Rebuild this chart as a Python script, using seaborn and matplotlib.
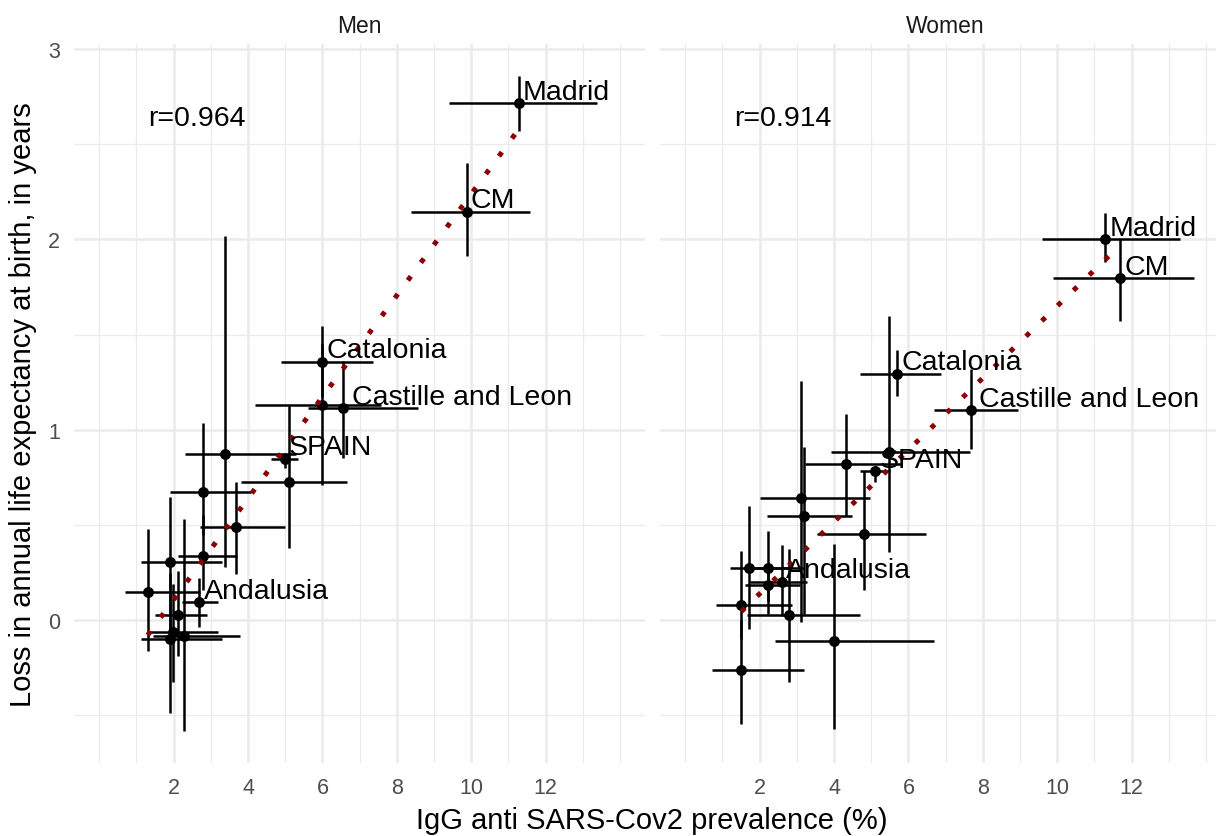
import numpy as np
import pandas as pd
import matplotlib
matplotlib.use("Agg")
import matplotlib.pyplot as plt
import seaborn as sns

# ---------------- data ----------------
men_names = ["Madrid", "CM", "Catalonia", "", "Castille and Leon", "SPAIN", "", "", "",
             "", "", "", "", "Andalusia", "", "", "", ""]
men_x    = [11.27, 9.88, 5.99, 5.99, 6.56, 4.98, 5.10, 3.39, 2.79, 3.68, 2.79, 1.90, 1.30, 2.69, 2.11, 1.99, 1.90, 2.28]
men_xlo  = [9.40, 8.38, 4.89, 4.19, 5.61, 4.62, 3.80, 2.30, 1.91, 2.70, 2.11, 1.11, 0.69, 2.21, 1.50, 1.32, 1.11, 1.45]
men_xhi  = [13.37, 11.58, 7.36, 7.56, 8.57, 5.34, 6.66, 5.30, 4.09, 4.98, 3.69, 3.29, 2.71, 3.20, 2.89, 3.20, 3.29, 3.78]
men_y    = [2.715, 2.146, 1.358, 1.132, 1.114, 0.849, 0.726, 0.875, 0.674, 0.491, 0.337, 0.306, 0.149, 0.096, 0.026, -0.061, -0.100, -0.082]
men_ylo  = [2.571, 1.914, 1.170, 0.710, 0.850, 0.800, 0.381, 0.280, 0.450, 0.240, 0.160, -0.040, -0.160, -0.038, -0.188, -0.327, -0.485, -0.580]
men_yhi  = [2.857, 2.400, 1.547, 1.450, 1.360, 0.880, 1.126, 2.018, 1.035, 0.728, 0.550, 0.648, 0.480, 0.224, 0.259, 0.190, 0.250, 0.530]

women_names = ["Madrid", "CM", "Catalonia", "Castille and Leon", "", "SPAIN", "", "", "",
               "", "", "", "", "Andalusia", "", "", "", ""]
women_x   = [11.29, 11.69, 5.70, 7.68, 5.48, 5.10, 4.31, 3.10, 3.19, 4.80, 1.72, 2.21, 2.21, 2.60, 1.505, 1.505, 2.80, 4.00]
women_xlo = [9.59, 9.88, 4.69, 6.69, 3.91, 4.70, 3.21, 2.00, 2.20, 3.53, 1.21, 1.60, 1.61, 1.75, 0.83, 0.72, 1.66, 2.42]
women_xhi = [13.29, 13.67, 6.87, 8.95, 7.66, 5.50, 5.81, 4.96, 4.47, 6.47, 2.82, 3.20, 3.09, 3.27, 2.87, 3.18, 4.69, 6.69]
women_y   = [2.003, 1.796, 1.295, 1.105, 0.882, 0.782, 0.818, 0.640, 0.546, 0.453, 0.272, 0.272, 0.184, 0.203, 0.079, -0.263, 0.026, -0.109]
women_ylo = [1.880, 1.573, 1.177, 0.900, 0.356, 0.725, 0.549, -0.012, 0.030, 0.158, -0.047, 0.100, 0.032, 0.023, -0.100, -0.547, -0.324, -0.569]
women_yhi = [2.140, 2.000, 1.418, 1.320, 1.598, 0.810, 1.084, 1.254, 0.909, 0.786, 0.600, 0.469, 0.300, 0.394, 0.364, 0.000, 0.373, 0.400]

panels = ["Men", "Women"]
r_labels = ["r=0.964", "r=0.914"]
x_ticks = [2, 4, 6, 8, 10, 12]
y_ticks = [0, 1, 2, 3]
x_label = "IgG anti SARS-Cov2 prevalence (%)"
y_label = "Loss in annual life expectancy at birth, in years"

# ---------------- style ----------------
sns.set_theme(style="white")
plt.rcParams["font.family"] = ["Liberation Sans", "DejaVu Sans"]

W, H = 1216, 837
fig = plt.figure(figsize=(W / 100, H / 100), dpi=100)
fig.patch.set_facecolor("white")

ax_w = 571 / W
ax_h = 719 / H
ax_b = (H - 764) / H
lefts = [74 / W, 660 / W]

frames = [
    pd.DataFrame(dict(name=men_names, x=men_x, xlo=men_xlo, xhi=men_xhi,
                      y=men_y, ylo=men_ylo, yhi=men_yhi)),
    pd.DataFrame(dict(name=women_names, x=women_x, xlo=women_xlo, xhi=women_xhi,
                      y=women_y, ylo=women_ylo, yhi=women_yhi)),
]

label_dx = {"Castille and Leon": 6.0}
grid_col = "#EBEBEB"

for i, (df, title, rlab) in enumerate(zip(frames, panels, r_labels)):
    ax = fig.add_axes([lefts[i], ax_b, ax_w, ax_h])
    ax.set_facecolor("white")
    for s in ax.spines.values():
        s.set_visible(False)
    ax.set_xlim(-0.68, 14.67)
    ax.set_ylim(-0.75, 3.026)
    ax.set_xticks(x_ticks)
    ax.set_xticks([0, 1, 3, 5, 7, 9, 11, 13, 14], minor=True)
    ax.set_yticks(y_ticks)
    ax.set_yticks([-0.5, 0.5, 1.5, 2.5], minor=True)
    ax.grid(which="major", color=grid_col, linewidth=1.8, zorder=0)
    ax.grid(which="minor", color=grid_col, linewidth=0.9, zorder=0)
    ax.set_axisbelow(True)
    ax.tick_params(which="both", length=0, pad=10, labelsize=15.5, labelcolor="#4D4D4D")
    if i == 1:
        ax.tick_params(axis="y", labelleft=False)

    ax.errorbar(df["x"], df["y"],
                xerr=[df["x"] - df["xlo"], df["xhi"] - df["x"]],
                yerr=[df["y"] - df["ylo"], df["yhi"] - df["y"]],
                fmt="none", ecolor="black", elinewidth=1.8, capsize=0, zorder=2)
    sns.scatterplot(data=df, x="x", y="y", color="black", s=62, linewidth=0,
                    ax=ax, zorder=3, legend=False)
    sns.regplot(data=df, x="x", y="y", scatter=False, ci=None, ax=ax, truncate=True,
                line_kws=dict(color="#8B0000", linewidth=3.6, linestyle=(0, (1, 3.4)), zorder=4))
    ax.set_xlabel("")
    ax.set_ylabel("")

    for _, row in df[df["name"] != ""].iterrows():
        ax.annotate(row["name"], (row["x"], row["y"]),
                    xytext=(label_dx.get(row["name"], 3.0), 3.0), textcoords="offset points",
                    ha="left", va="baseline", fontsize=20.5, color="black", zorder=5)

    ax.text(1.30, 2.60, rlab, ha="left", va="baseline", fontsize=20.5, color="black")

    cx = (lefts[i] + ax_w / 2)
    fig.text(cx, 1 - 33 / H, title, ha="center", va="baseline", fontsize=16.5, color="#1A1A1A")

fig.text(652 / W, 1 - 829 / H, x_label, ha="center", va="baseline", fontsize=21, color="black")
fig.text(23 / W, 1 - 405 / H, y_label, ha="center", va="center", rotation=90, fontsize=21, color="black")

fig.savefig("out.png", dpi=100)
